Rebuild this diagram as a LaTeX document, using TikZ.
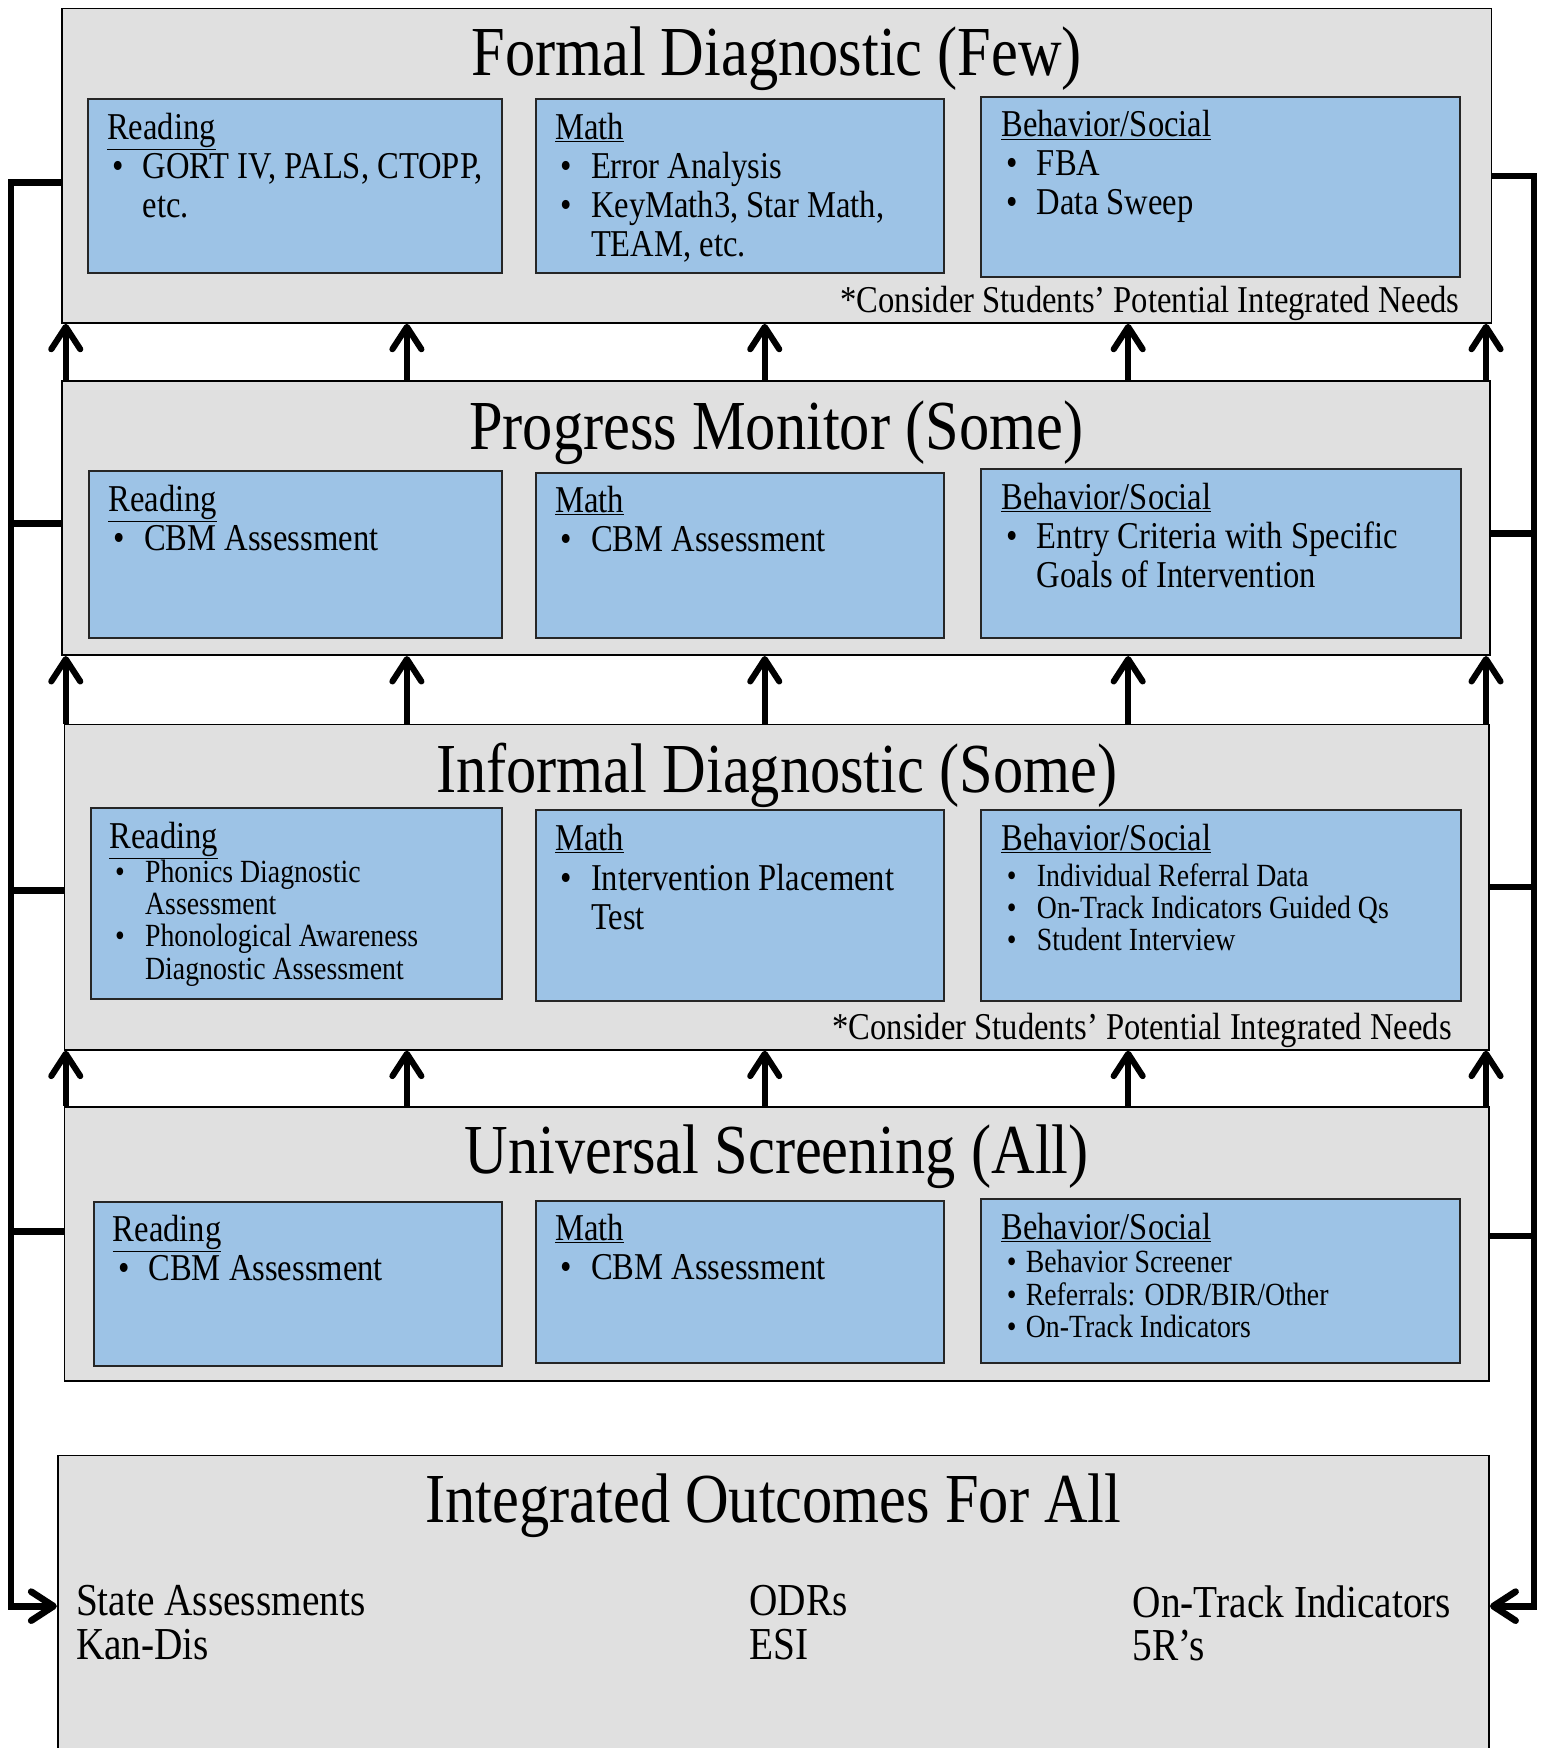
\documentclass[tikz,border=0pt]{standalone}
\usepackage{fontspec}
\setmainfont[FakeStretch=0.86]{Liberation Serif}
\usetikzlibrary{arrows.meta,calc}

\definecolor{tiergray}{RGB}{224,224,224}
\definecolor{cellblue}{RGB}{157,195,230}

\newcommand{\blt}{\hspace*{5pt}\makebox[27pt][l]{\textbullet}}
\newcommand{\sblt}{\hspace*{5pt}\makebox[17pt][l]{\textbullet}}
\newcommand{\cont}{\hspace*{32pt}}

\tikzset{
  tier/.style={draw=black, line width=1.5pt, fill=tiergray, anchor=north west, inner sep=0pt},
  cell/.style={draw=black!85, line width=1.8pt, fill=cellblue, anchor=north west, inner sep=0pt},
  ttl/.style={anchor=base, inner sep=0pt, font=\fontsize{63}{70}\selectfont},
  txt/.style={anchor=north west, align=left, inner sep=0pt, font=\fontsize{34}{35}\selectfont},
  sml/.style={txt, font=\fontsize{29}{29}\selectfont},
  note/.style={anchor=base east, inner sep=0pt, font=\fontsize{34}{35}\selectfont},
  tip/.style={-{Straight Barb[round,length=20pt,width=26pt]}},
  uparr/.style={line width=5.5pt, tip},
  rail/.style={line width=6pt},
}

\begin{document}
\begin{tikzpicture}[x=1pt,y=-1pt]
	\useasboundingbox (0,0) rectangle (1387,1568);
	% tiers
	\node[tier, minimum width=1282pt, minimum height=282pt] (formal) at (55,7) {};
	\node[tier, minimum width=1281pt, minimum height=246pt] (progress) at (55,341) {};
	\node[tier, minimum width=1278pt, minimum height=292pt] (informal) at (57,649) {};
	\node[tier, minimum width=1278pt, minimum height=246pt] (universal) at (57,992) {};
	\node[tier, minimum width=1284pt, minimum height=270pt] (outcome) at (51,1305) {};
	\node[ttl] (formal-t) at ($(formal.north)+(0,61)$) {Formal Diagnostic (Few)};
	\node[ttl] (progress-t) at ($(progress.north)+(0,62)$) {Progress Monitor (Some)};
	\node[ttl] (informal-t) at ($(informal.north)+(0,62)$) {Informal Diagnostic (Some)};
	\node[ttl] (universal-t) at ($(universal.north)+(0,61)$) {Universal Screening (All)};
	\node[ttl] (outcome-t) at ($(outcome.north)+(0,61)$) {Integrated Outcomes For All};

	% formal diagnostic
	\node[cell, minimum width=371pt, minimum height=156pt] (fread) at (78,88) {};
	\node[txt] (fread-t) at ($(fread.north west)+(18,13)$) {\underline{Reading}\\\blt GORT IV, PALS, CTOPP,\\\cont etc.};
	\node[cell, minimum width=366pt, minimum height=156pt] (fmath) at (480,88) {};
	\node[txt] (fmath-t) at ($(fmath.north west)+(18,13)$) {\underline{Math}\\\blt Error Analysis\\\blt KeyMath3, Star Math,\\\cont TEAM, etc.};
	\node[cell, minimum width=430pt, minimum height=162pt] (fbeh) at (879,86) {};
	\node[txt] (fbeh-t) at ($(fbeh.north west)+(19,13)$) {\underline{Behavior/Social}\\\blt FBA\\\blt Data Sweep};
	\node[note] (fnote) at ($(formal.south east)+(-29,-10)$) {*Consider Students’ Potential Integrated Needs};

	% progress monitor
	\node[cell, minimum width=370pt, minimum height=149pt] (pread) at (79,422) {};
	\node[txt] (pread-t) at ($(pread.north west)+(18,13)$) {\underline{Reading}\\\blt CBM Assessment};
	\node[cell, minimum width=366pt, minimum height=148pt] (pmath) at (480,423) {};
	\node[txt] (pmath-t) at ($(pmath.north west)+(18,13)$) {\underline{Math}\\\blt CBM Assessment};
	\node[cell, minimum width=431pt, minimum height=151pt] (pbeh) at (879,420) {};
	\node[txt] (pbeh-t) at ($(pbeh.north west)+(19,13)$) {\underline{Behavior/Social}\\\blt Entry Criteria with Specific\\\cont Goals of Intervention};

	% informal diagnostic
	\node[cell, minimum width=368pt, minimum height=171pt] (iread) at (81,724) {};
	\node[sml] (iread-t) at ($(iread.north west)+(17,13)$) {{\fontsize{34}{35}\selectfont\underline{Reading}}\\\blt Phonics Diagnostic\\\cont Assessment\\\blt Phonological Awareness\\\cont Diagnostic Assessment};
	\node[cell, minimum width=366pt, minimum height=171pt] (imath) at (480,726) {};
	\node[txt] (imath-t) at ($(imath.north west)+(18,13)$) {\underline{Math}\\[1pt]\blt Intervention Placement\\\cont Test};
	\node[cell, minimum width=431pt, minimum height=171pt] (ibeh) at (879,726) {};
	\node[sml] (ibeh-t) at ($(ibeh.north west)+(19,13)$) {{\fontsize{34}{35}\selectfont\underline{Behavior/Social}}\\[3pt]\blt Individual Referral Data\\\blt On-Track Indicators Guided Qs\\\blt Student Interview};
	\node[note] (inote) at ($(informal.south east)+(-34,-10)$) {*Consider Students’ Potential Integrated Needs};

	% universal screening
	\node[cell, minimum width=366pt, minimum height=147pt] (uread) at (83,1077) {};
	\node[txt] (uread-t) at ($(uread.north west)+(18,13)$) {\underline{Reading}\\\blt CBM Assessment};
	\node[cell, minimum width=366pt, minimum height=146pt] (umath) at (480,1076) {};
	\node[txt] (umath-t) at ($(umath.north west)+(18,13)$) {\underline{Math}\\\blt CBM Assessment};
	\node[cell, minimum width=430pt, minimum height=147pt] (ubeh) at (879,1075) {};
	\node[sml] (ubeh-t) at ($(ubeh.north west)+(19,13)$) {{\fontsize{34}{35}\selectfont\underline{Behavior/Social}}\\[1pt]\sblt Behavior Screener\\\sblt Referrals: ODR/BIR/Other\\\sblt On-Track Indicators};

	% outcomes
	\node[txt, font=\fontsize{41}{39}\selectfont] (state) at (68,1422) {State Assessments\\Kan-Dis};
	\node[txt, font=\fontsize{41}{39}\selectfont] (odr) at (672,1422) {ODRs\\ESI};
	\node[txt, font=\fontsize{41}{39}\selectfont] (track) at (1016,1422) {On-Track Indicators\\5R’s};

	% arrows between tiers
	\coordinate (k1) at (59,0);
	\coordinate (k2) at (365,0);
	\coordinate (k3) at (686,0);
	\coordinate (k4) at (1012,0);
	\coordinate (k5) at (1333,0);
	\foreach \lo/\hi in {progress/formal, informal/progress, universal/informal}
		\foreach \k in {1,...,5}
			\draw[uparr] (\lo.north -| k\k) -- (\hi.south -| k\k);

	% side rails
	\coordinate (lrail) at (10,0);
	\coordinate (rrail) at (1376,0);
	\draw[rail, tip] ($(formal.west)+(0,15)$) -| (lrail |- outcome.west) -- (outcome.west);
	\draw[rail] ($(progress.west)+(0,5)$) -- ++(-46,0);
	\draw[rail] ($(informal.west)+(0,3)$) -- ++(-46,0);
	\draw[rail] ($(universal.west)+(0,-11)$) -- ++(-46,0);
	\draw[rail, tip] ($(formal.east)+(0,9)$) -| (rrail |- outcome.east) -- (outcome.east);
	\draw[rail] ($(progress.east)+(0,14)$) -- ++(40,0);
	\draw[rail] ($(informal.east)+(0,0)$) -- ++(40,0);
	\draw[rail] ($(universal.east)+(0,-7)$) -- ++(40,0);
\end{tikzpicture}
\end{document}
